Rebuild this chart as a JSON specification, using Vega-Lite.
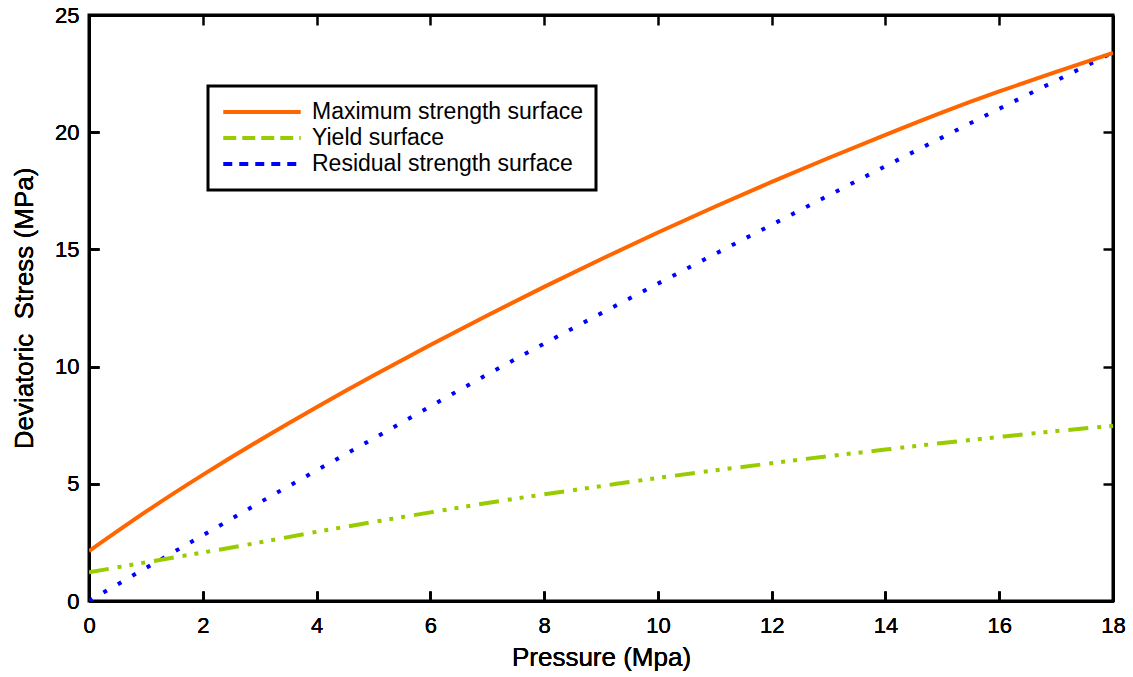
{
  "$schema": "https://vega.github.io/schema/vega-lite/v6.json",
  "width": 1024,
  "height": 586,
  "autosize": "none",
  "padding": {"left": 89, "top": 15, "right": 20, "bottom": 76},
  "background": "white",
  "config": {
    "font": "Liberation Sans",
    "view": {"stroke": "black", "strokeWidth": 3},
    "axis": {
      "grid": false,
      "domainColor": "black",
      "domainWidth": 3,
      "tickColor": "black",
      "tickWidth": 2.5,
      "tickSize": -10,
      "labelFont": "Liberation Sans",
      "labelFontSize": 22,
      "labelColor": "black",
      "titleFont": "Liberation Sans",
      "titleFontSize": 26,
      "titleFontWeight": 400,
      "titleColor": "black"
    }
  },
  "data": {
    "values": [
      {"p": 0, "s": 2.13, "curve": "Maximum strength surface"},
      {"p": 1, "s": 3.81, "curve": "Maximum strength surface"},
      {"p": 2, "s": 5.38, "curve": "Maximum strength surface"},
      {"p": 3, "s": 6.86, "curve": "Maximum strength surface"},
      {"p": 4, "s": 8.27, "curve": "Maximum strength surface"},
      {"p": 5, "s": 9.62, "curve": "Maximum strength surface"},
      {"p": 6, "s": 10.92, "curve": "Maximum strength surface"},
      {"p": 7, "s": 12.18, "curve": "Maximum strength surface"},
      {"p": 8, "s": 13.4, "curve": "Maximum strength surface"},
      {"p": 9, "s": 14.58, "curve": "Maximum strength surface"},
      {"p": 10, "s": 15.72, "curve": "Maximum strength surface"},
      {"p": 11, "s": 16.82, "curve": "Maximum strength surface"},
      {"p": 12, "s": 17.88, "curve": "Maximum strength surface"},
      {"p": 13, "s": 18.9, "curve": "Maximum strength surface"},
      {"p": 14, "s": 19.89, "curve": "Maximum strength surface"},
      {"p": 15, "s": 20.85, "curve": "Maximum strength surface"},
      {"p": 16, "s": 21.74, "curve": "Maximum strength surface"},
      {"p": 17, "s": 22.57, "curve": "Maximum strength surface"},
      {"p": 18, "s": 23.38, "curve": "Maximum strength surface"},
      {"p": 0, "s": 1.22, "curve": "Yield surface"},
      {"p": 1, "s": 1.65, "curve": "Yield surface"},
      {"p": 2, "s": 2.07, "curve": "Yield surface"},
      {"p": 3, "s": 2.5, "curve": "Yield surface"},
      {"p": 4, "s": 2.95, "curve": "Yield surface"},
      {"p": 5, "s": 3.37, "curve": "Yield surface"},
      {"p": 6, "s": 3.78, "curve": "Yield surface"},
      {"p": 7, "s": 4.18, "curve": "Yield surface"},
      {"p": 8, "s": 4.55, "curve": "Yield surface"},
      {"p": 9, "s": 4.9, "curve": "Yield surface"},
      {"p": 10, "s": 5.25, "curve": "Yield surface"},
      {"p": 11, "s": 5.57, "curve": "Yield surface"},
      {"p": 12, "s": 5.88, "curve": "Yield surface"},
      {"p": 13, "s": 6.18, "curve": "Yield surface"},
      {"p": 14, "s": 6.46, "curve": "Yield surface"},
      {"p": 15, "s": 6.74, "curve": "Yield surface"},
      {"p": 16, "s": 7.0, "curve": "Yield surface"},
      {"p": 17, "s": 7.25, "curve": "Yield surface"},
      {"p": 18, "s": 7.47, "curve": "Yield surface"},
      {"p": 0, "s": 0.0, "curve": "Residual strength surface"},
      {"p": 1, "s": 1.41, "curve": "Residual strength surface"},
      {"p": 2, "s": 2.8, "curve": "Residual strength surface"},
      {"p": 3, "s": 4.2, "curve": "Residual strength surface"},
      {"p": 4, "s": 5.57, "curve": "Residual strength surface"},
      {"p": 5, "s": 6.93, "curve": "Residual strength surface"},
      {"p": 6, "s": 8.3, "curve": "Residual strength surface"},
      {"p": 7, "s": 9.66, "curve": "Residual strength surface"},
      {"p": 8, "s": 10.98, "curve": "Residual strength surface"},
      {"p": 9, "s": 12.27, "curve": "Residual strength surface"},
      {"p": 10, "s": 13.54, "curve": "Residual strength surface"},
      {"p": 11, "s": 14.8, "curve": "Residual strength surface"},
      {"p": 12, "s": 16.05, "curve": "Residual strength surface"},
      {"p": 13, "s": 17.3, "curve": "Residual strength surface"},
      {"p": 14, "s": 18.55, "curve": "Residual strength surface"},
      {"p": 15, "s": 19.78, "curve": "Residual strength surface"},
      {"p": 16, "s": 21.0, "curve": "Residual strength surface"},
      {"p": 17, "s": 22.2, "curve": "Residual strength surface"},
      {"p": 18, "s": 23.4, "curve": "Residual strength surface"}
    ]
  },
  "encoding": {
    "x": {
      "field": "p", "type": "quantitative",
      "scale": {"domain": [0, 18], "nice": false, "zero": false},
      "axis": {"orient": "bottom", "title": "Pressure (Mpa)", "values": [0, 2, 4, 6, 8, 10, 12, 14, 16, 18], "labelPadding": 24, "titlePadding": 8, "titleFontWeight": 400, "labelFlush": false}
    },
    "y": {
      "field": "s", "type": "quantitative",
      "scale": {"domain": [0, 25], "nice": false},
      "axis": {"orient": "left", "title": "Deviatoric\u00a0 Stress (MPa)", "values": [0, 5, 10, 15, 20, 25], "labelPadding": 20, "titlePadding": 17, "titleFontWeight": 400, "labelFlush": false}
    },
    "color": {
      "field": "curve", "type": "nominal",
      "sort": ["Maximum strength surface", "Yield surface", "Residual strength surface"],
      "scale": {"domain": ["Maximum strength surface", "Yield surface", "Residual strength surface"], "range": ["#FF6600", "#99CC00", "#0000FF"]},
      "legend": {
        "title": null,
        "orient": "none",
        "legendX": 119,
        "legendY": 71,
        "padding": 13,
        "strokeColor": "black",
        "fillColor": "white",
        "symbolType": "stroke",
        "symbolSize": 6000,
        "symbolStrokeWidth": 4,
        "labelFontSize": 23,
        "labelFont": "Liberation Sans",
        "labelColor": "black",
        "labelOffset": 9,
        "labelLimit": 400,
        "clipHeight": 26,
        "rowPadding": 0,
        "encode": {
          "legend": {"update": {"strokeWidth": {"value": 3}}},
          "symbols": {
            "update": {
              "strokeDash": {"signal": "datum.value === 'Yield surface' ? [13, 6] : datum.value === 'Residual strength surface' ? [9, 7] : [1, 0]"}
            }
          }
        }
      }
    }
  },
  "layer": [
    {
      "transform": [{"filter": "datum.curve === 'Residual strength surface'"}],
      "mark": {"type": "line", "strokeWidth": 4, "interpolate": "natural", "strokeDash": [4, 12.7], "clip": true}
    },
    {
      "transform": [{"filter": "datum.curve === 'Yield surface'"}],
      "mark": {"type": "line", "strokeWidth": 4, "interpolate": "natural", "strokeDash": [20, 9, 4, 8, 4, 8, 4, 9], "clip": true}
    },
    {
      "transform": [{"filter": "datum.curve === 'Maximum strength surface'"}],
      "mark": {"type": "line", "strokeWidth": 4, "interpolate": "natural", "clip": true}
    },
    {
      "mark": {"type": "line", "strokeOpacity": 0},
      "encoding": {
        "x": {
          "field": "p", "type": "quantitative",
          "axis": {"orient": "top", "title": null, "labels": false, "values": [0, 2, 4, 6, 8, 10, 12, 14, 16, 18]}
        },
        "y": {
          "field": "s", "type": "quantitative",
          "axis": {"orient": "right", "title": null, "labels": false, "values": [0, 5, 10, 15, 20, 25]}
        },
        "color": {"value": "black"}
      }
    }
  ],
  "resolve": {"axis": {"x": "independent", "y": "independent"}}
}
